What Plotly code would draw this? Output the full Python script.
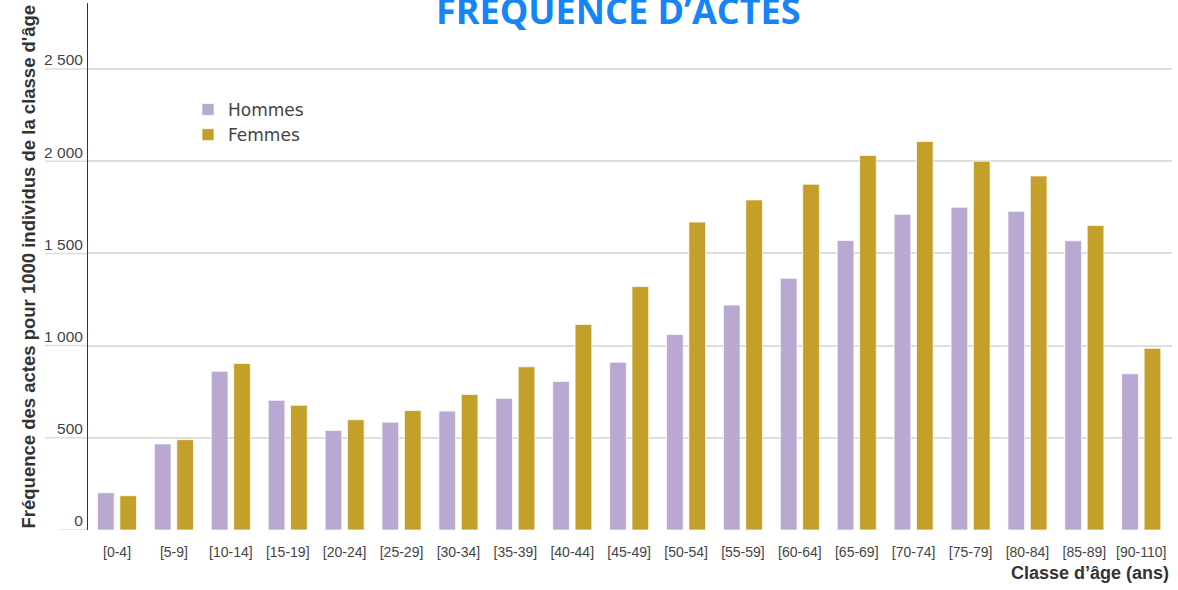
import plotly.graph_objects as go

categories = ["[0-4]", "[5-9]", "[10-14]", "[15-19]", "[20-24]", "[25-29]", "[30-34]",
              "[35-39]", "[40-44]", "[45-49]", "[50-54]", "[55-59]", "[60-64]", "[65-69]",
              "[70-74]", "[75-79]", "[80-84]", "[85-89]", "[90-110]"]
hommes = [202, 467, 861, 703, 540, 585, 645, 714, 805, 910, 1060, 1220, 1365, 1570,
          1712, 1750, 1728, 1568, 847]
femmes = [186, 490, 903, 676, 598, 648, 735, 885, 1115, 1320, 1670, 1790, 1875, 2031,
          2107, 2000, 1920, 1651, 985]
ytick_vals = [0, 500, 1000, 1500, 2000, 2500]
ytick_text = ["0", "500", "1 000", "1 500", "2 000", "2 500"]

W, H = 1178, 590
L, R, T, B = 88, 6, 3, 60
plot_w = W - L - R
plot_h = H - T - B

fig = go.Figure()
fig.add_trace(go.Bar(name="Hommes", x=categories, y=hommes,
                     marker=dict(color="#B9A8D2", line=dict(color="rgba(255,255,255,0.7)", width=1))))
fig.add_trace(go.Bar(name="Femmes", x=categories, y=femmes,
                     marker=dict(color="#C4A02A", line=dict(color="rgba(255,255,255,0.7)", width=1))))

# gridline extensions to the left of the axis line
for v in ytick_vals:
    x0_px = 59 if v == 0 else 45
    fig.add_shape(type="line", xref="paper", yref="y",
                  x0=-(L - x0_px) / plot_w, x1=0, y0=v, y1=v,
                  line=dict(color="#dddddd", width=1.5), layer="below")

fig.add_annotation(text="FRÉQUENCE D’ACTES", xref="paper", yref="paper",
                   x=(618 - L) / plot_w, y=(H - B - 11) / plot_h, xanchor="center", yanchor="middle",
                   showarrow=False,
                   font=dict(family="Open Sans", size=36, color="#1584F7", weight="bold"))
fig.add_annotation(text="Fréquence des actes pour 1000 individus de la classe d'âge",
                   xref="paper", yref="paper", x=(28 - L) / plot_w, y=0.5,
                   xanchor="center", yanchor="middle", textangle=-90, showarrow=False,
                   font=dict(family="Liberation Sans", size=18.5, color="#333333", weight="bold"))
fig.add_annotation(text="Classe d’âge (ans)", xref="paper", yref="paper",
                   x=(1171 - L) / plot_w, y=-(573 - (H - B)) / plot_h, xanchor="right", yanchor="middle",
                   showarrow=False,
                   font=dict(family="Liberation Sans", size=18, color="#333333", weight="bold"))

fig.update_layout(
    width=W, height=H,
    margin=dict(l=L, r=R, t=T, b=B),
    paper_bgcolor="white", plot_bgcolor="white",
    barmode="group", bargap=0.214, bargroupgap=0.255,
    showlegend=True,
    legend=dict(x=(188 - L) / plot_w, y=(H - B - 92) / plot_h, xanchor="left", yanchor="top",
                font=dict(family="DejaVu Sans", size=17, color="#444444"),
                bgcolor="rgba(0,0,0,0)", tracegroupgap=0),
    xaxis=dict(range=[-0.51, 18.54], showgrid=False, showline=False, zeroline=False,
               ticks="", ticklabelstandoff=12,
               tickfont=dict(family="Liberation Sans", size=14, color="#444444")),
    yaxis=dict(range=[0, 2858], tickvals=ytick_vals, ticktext=ytick_text,
               showgrid=True, gridcolor="#dddddd", gridwidth=1.5,
               zeroline=False, showline=True, linecolor="#333333", linewidth=1,
               ticks="", ticklabelshift=-9, ticklabelstandoff=1,
               tickfont=dict(family="Liberation Sans", size=15.5, color="#444444")),
)

fig.write_html("out.html", config={"displayModeBar": False},
               post_script="document.body.style.margin='0px';document.body.style.overflow='hidden';")
